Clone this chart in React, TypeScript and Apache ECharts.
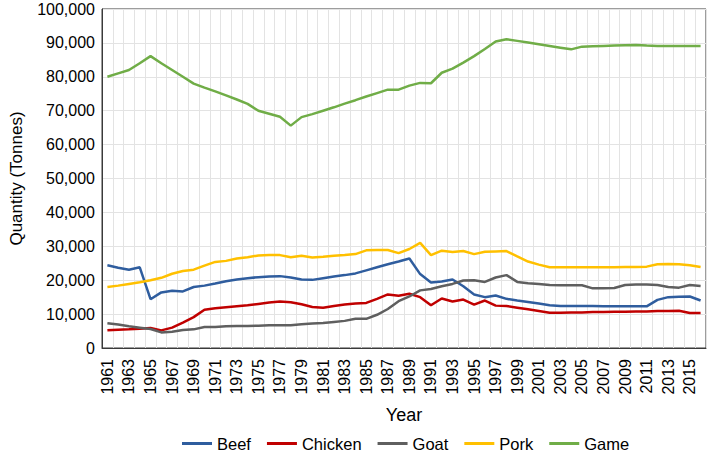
import React, { useEffect, useRef } from "react";
import * as echarts from "echarts";

const years: string[] = [];
for (let y = 1961; y <= 2016; y++) years.push(String(y));

const beef = [
  24400, 23700, 23100, 23800, 14400, 16400, 16900, 16700, 18000, 18400,
  19000, 19700, 20200, 20600, 20900, 21100, 21200, 20800, 20200, 20100,
  20600, 21100, 21500, 22000, 22900, 23800, 24700, 25500, 26400, 21800,
  19300, 19600, 20200, 18200, 15800, 15000, 15500, 14500, 14000, 13600,
  13100, 12600, 12400, 12400, 12400, 12400, 12300, 12300, 12300, 12300,
  12300, 14200, 15000, 15100, 15200, 14000,
];
const chicken = [
  5200, 5400, 5500, 5700, 5900, 5200, 6000, 7500, 9100, 11300,
  11700, 12000, 12300, 12600, 13000, 13400, 13700, 13500, 12900, 12100,
  11900, 12400, 12800, 13100, 13300, 14500, 15800, 15400, 16000, 15000,
  12600, 14600, 13700, 14300, 12800, 14000, 12500, 12400, 11900, 11400,
  10900, 10400, 10400, 10500, 10500, 10600, 10600, 10700, 10700, 10800,
  10800, 10900, 10900, 11000, 10300, 10300,
];
const goat = [
  7300, 6900, 6400, 6000, 5600, 4600, 4800, 5300, 5500, 6200,
  6200, 6400, 6500, 6500, 6600, 6700, 6700, 6700, 7000, 7200,
  7400, 7700, 8000, 8600, 8600, 9800, 11500, 13800, 15200, 17000,
  17400, 18200, 18900, 19900, 20000, 19500, 20800, 21500, 19500, 19100,
  18900, 18600, 18500, 18500, 18500, 17600, 17600, 17700, 18600, 18700,
  18700, 18600, 18000, 17800, 18600, 18300,
];
const pork = [
  18000, 18400, 18900, 19400, 20000, 20700, 21900, 22700, 23100, 24300,
  25400, 25700, 26400, 26800, 27300, 27400, 27400, 26800, 27200, 26700,
  26900, 27200, 27400, 27700, 28800, 28900, 28900, 28000, 29200, 31000,
  27400, 28700, 28300, 28600, 27700, 28400, 28500, 28600, 27000, 25500,
  24600, 23800, 23800, 23800, 23800, 23800, 23800, 23800, 23900, 23900,
  24000, 24700, 24800, 24700, 24400, 23900,
];
const game = [
  80000, 81000, 82000, 84000, 86100, 84000, 82000, 80000, 78000, 76800,
  75700, 74500, 73300, 72000, 70000, 69100, 68200, 65600, 68100, 69000,
  70000, 71000, 72100, 73100, 74200, 75200, 76200, 76200, 77400, 78200,
  78100, 81200, 82400, 84200, 86100, 88200, 90400, 91100, 90600, 90100,
  89600, 89100, 88600, 88100, 88900, 89000, 89100, 89200, 89300, 89400,
  89200, 89100, 89100, 89100, 89100, 89100,
];

const seriesDefs = [
  { name: "Beef", data: beef, color: "#2F5D9E" },
  { name: "Chicken", data: chicken, color: "#C00000" },
  { name: "Goat", data: goat, color: "#5F5F5F" },
  { name: "Pork", data: pork, color: "#FFC000" },
  { name: "Game", data: game, color: "#70AD47" },
];

const FONT = "Liberation Sans, Arial, sans-serif";

export default function App() {
  const ref = useRef<HTMLDivElement>(null);
  useEffect(() => {
    document.body.style.margin = "0";
    if (!ref.current) return;
    const chart = echarts.init(ref.current, null, { renderer: "svg" });
    chart.setOption({
      animation: false,
      backgroundColor: "#fff",
      textStyle: { fontFamily: FONT },
      grid: {
        left: 97,
        right: 3,
        top: 9,
        bottom: 106,
        show: true,
        borderColor: "#3a3a3a",
        borderWidth: 1,
      },
      legend: {
        top: 430,
        left: 177,
        itemWidth: 30,
        itemHeight: 3,
        itemGap: 16,
        icon: "rect",
        textStyle: { fontFamily: FONT, fontSize: 16.5, color: "#000" },
        data: seriesDefs.map((s) => s.name),
      },
      xAxis: {
        type: "category",
        data: years,
        boundaryGap: true,
        name: "Year",
        nameLocation: "middle",
        nameGap: 58,
        nameTextStyle: { fontFamily: FONT, fontSize: 18, color: "#000" },
        axisLine: { lineStyle: { color: "#3a3a3a" } },
        axisTick: { show: false },
        axisLabel: {
          interval: 1,
          rotate: 90,
          fontFamily: FONT,
          fontSize: 16,
          color: "#000",
          margin: 11,
        },
        splitLine: { show: true, interval: 0, lineStyle: { color: "#E3E3E3" } },
      },
      yAxis: {
        type: "value",
        min: 0,
        max: 100000,
        interval: 10000,
        name: "Quantity (Tonnes)",
        nameLocation: "middle",
        nameGap: 77,
        nameTextStyle: { fontFamily: FONT, fontSize: 17, color: "#000" },
        axisLine: { show: true, lineStyle: { color: "#3a3a3a" } },
        axisTick: { show: false },
        axisLabel: {
          fontFamily: FONT,
          fontSize: 16,
          color: "#000",
          margin: 7,
          formatter: (v: number) => v.toLocaleString("en-US"),
        },
        splitLine: { show: true, lineStyle: { color: "#E3E3E3" } },
      },
      series: seriesDefs.map((s) => ({
        name: s.name,
        type: "line",
        data: s.data,
        showSymbol: false,
        symbol: "none",
        lineStyle: { width: 2.5, color: s.color },
        itemStyle: { color: s.color },
      })),
    });
    return () => chart.dispose();
  }, []);
  return <div ref={ref} style={{ width: 709, height: 454 }} />;
}
